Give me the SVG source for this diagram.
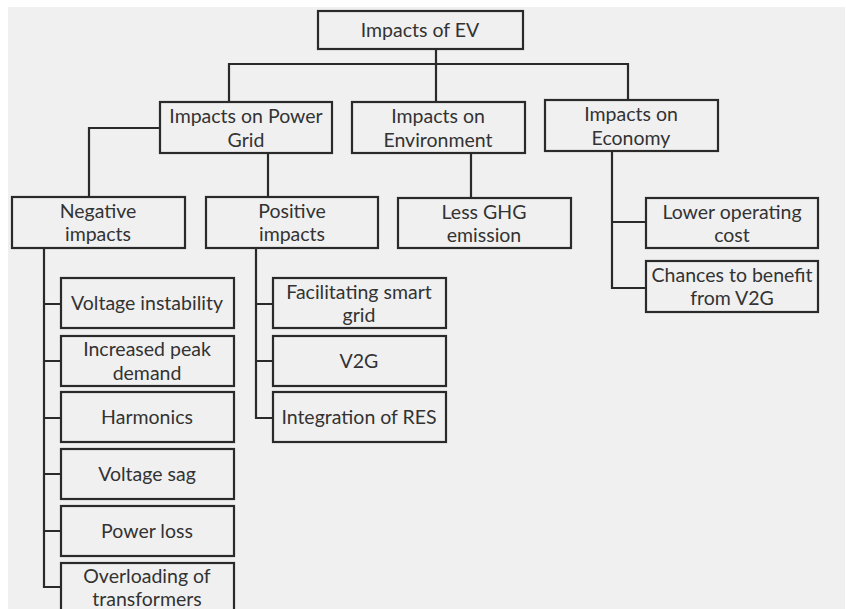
<svg xmlns="http://www.w3.org/2000/svg" width="846" height="609" viewBox="0 0 846 609">
<style>
.box{fill:#f0f0f0;stroke:#2a2a2a;stroke-width:2.2}
.t{font-family:Lato,"Open Sans","Liberation Sans",sans-serif;font-size:19.5px;fill:#333;text-anchor:middle}
.c{fill:none;stroke:#2a2a2a;stroke-width:2.2}
</style>
<rect x="0" y="0" width="846" height="609" fill="#ffffff"/>
<rect x="8" y="7" width="837" height="602" fill="#f0f0f0"/>
<g id="connectors">
<path class="c" d="M436,49 V102 M229,102 V64 H628 V100"/>
<path class="c" d="M160,128 H89 V197"/>
<path class="c" d="M268,153 V197"/>
<path class="c" d="M471,153 V198"/>
<path class="c" d="M612,151 V222 H646 M612,222 V288 H646"/>
<path class="c" d="M44,248 V587 H61 M44,304 H61 M44,361 H61 M44,418 H61 M44,474 H61 M44,531 H61"/>
<path class="c" d="M256,248 V418 H273 M256,304 H273 M256,361 H273"/>
</g>
<g id="n-root"><rect class="box" x="318" y="11" width="205" height="38"/><text class="t" x="420" y="37">Impacts of EV</text></g>
<g id="n-grid"><rect class="box" x="160" y="102" width="172" height="51"/><text class="t" x="246" y="123">Impacts on Power</text><text class="t" x="246" y="147">Grid</text></g>
<g id="n-env"><rect class="box" x="352" y="102" width="173" height="51"/><text class="t" x="438" y="123">Impacts on</text><text class="t" x="438" y="147">Environment</text></g>
<g id="n-eco"><rect class="box" x="545" y="100" width="173" height="51"/><text class="t" x="631" y="121">Impacts on</text><text class="t" x="631" y="145">Economy</text></g>
<g id="n-neg"><rect class="box" x="12" y="197" width="173" height="51"/><text class="t" x="98" y="218">Negative</text><text class="t" x="98" y="241">impacts</text></g>
<g id="n-pos"><rect class="box" x="206" y="197" width="172" height="51"/><text class="t" x="292" y="218">Positive</text><text class="t" x="292" y="241">impacts</text></g>
<g id="n-ghg"><rect class="box" x="398" y="198" width="173" height="50"/><text class="t" x="484" y="219">Less GHG</text><text class="t" x="484" y="242">emission</text></g>
<g id="n-lower"><rect class="box" x="646" y="198" width="172" height="50"/><text class="t" x="732" y="219">Lower operating</text><text class="t" x="732" y="242">cost</text></g>
<g id="n-chances"><rect class="box" x="646" y="261" width="172" height="51"/><text class="t" x="732" y="282">Chances to benefit</text><text class="t" x="732" y="305">from V2G</text></g>
<g id="n-vi"><rect class="box" x="61" y="278" width="173" height="50"/><text class="t" x="147" y="310">Voltage instability</text></g>
<g id="n-ipd"><rect class="box" x="61" y="336" width="173" height="50"/><text class="t" x="147" y="356">Increased peak</text><text class="t" x="147" y="380">demand</text></g>
<g id="n-harm"><rect class="box" x="61" y="392" width="173" height="50"/><text class="t" x="147" y="424">Harmonics</text></g>
<g id="n-sag"><rect class="box" x="61" y="449" width="173" height="50"/><text class="t" x="147" y="481">Voltage sag</text></g>
<g id="n-loss"><rect class="box" x="61" y="506" width="173" height="50"/><text class="t" x="147" y="538">Power loss</text></g>
<g id="n-over"><rect class="box" x="61" y="563" width="173" height="60"/><text class="t" x="147" y="583">Overloading of</text><text class="t" x="147" y="606">transformers</text></g>
<g id="n-smart"><rect class="box" x="273" y="278" width="173" height="50"/><text class="t" x="359" y="299">Facilitating smart</text><text class="t" x="359" y="322">grid</text></g>
<g id="n-v2g"><rect class="box" x="273" y="336" width="173" height="50"/><text class="t" x="359" y="368">V2G</text></g>
<g id="n-res"><rect class="box" x="273" y="392" width="173" height="50"/><text class="t" x="359" y="424">Integration of RES</text></g>
</svg>
